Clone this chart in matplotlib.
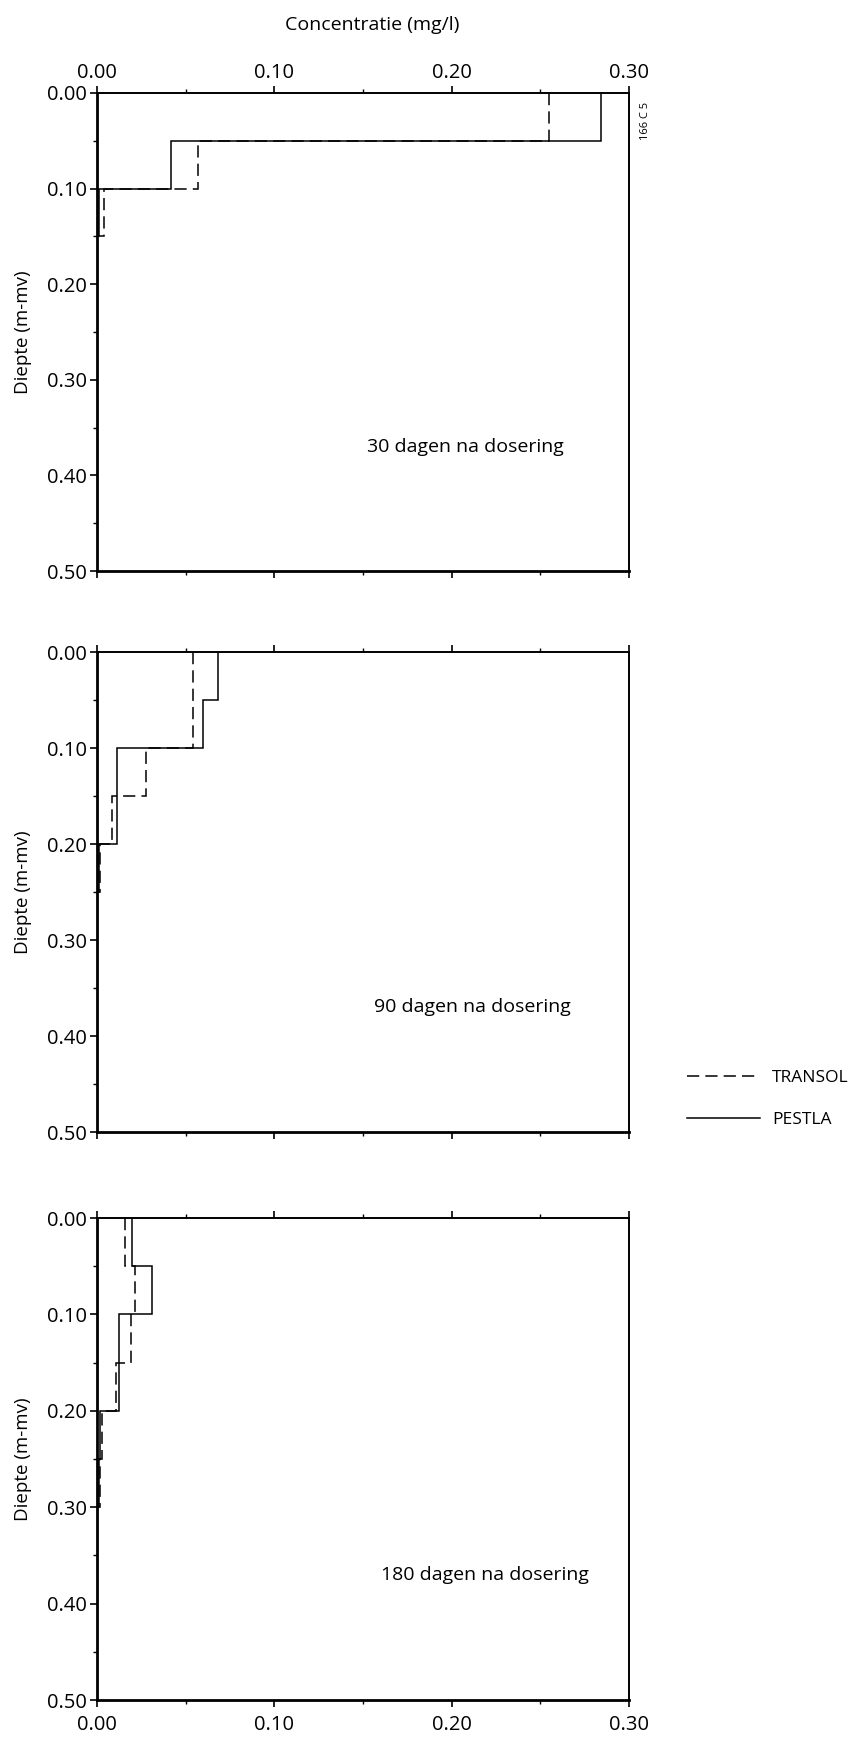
import matplotlib
matplotlib.use("Agg")
import matplotlib.pyplot as plt
from matplotlib.ticker import MultipleLocator, FormatStrFormatter

plt.rcParams['font.family'] = ['Open Sans', 'DejaVu Sans']

# Layer boundaries (m below surface) and concentrations per 5 cm layer (mg/l)
depth_edges = [0.00, 0.05, 0.10, 0.15, 0.20, 0.25, 0.30, 0.35, 0.40, 0.45, 0.50]

pestla_30 = [0.284, 0.042, 0.001, 0.0, 0.0, 0.0, 0.0, 0.0, 0.0, 0.0]
transol_30 = [0.255, 0.057, 0.0037, 0.0, 0.0, 0.0, 0.0, 0.0, 0.0, 0.0]

pestla_90 = [0.068, 0.060, 0.011, 0.011, 0.001, 0.0, 0.0, 0.0, 0.0, 0.0]
transol_90 = [0.054, 0.054, 0.0275, 0.0087, 0.0015, 0.0, 0.0, 0.0, 0.0, 0.0]

pestla_180 = [0.020, 0.031, 0.0125, 0.0125, 0.0017, 0.0012, 0.0, 0.0, 0.0, 0.0]
transol_180 = [0.016, 0.0215, 0.019, 0.0105, 0.003, 0.0015, 0.0, 0.0, 0.0, 0.0]

panel_titles = ["30 dagen na dosering", "90 dagen na dosering", "180 dagen na dosering"]
panel_text_x = [0.152, 0.156, 0.160]
series = [(transol_30, pestla_30), (transol_90, pestla_90), (transol_180, pestla_180)]

x_label = "Concentratie (mg/l)"
y_label = "Diepte (m-mv)"
legend_labels = ["TRANSOL", "PESTLA"]

W, H = 864, 1744
fig = plt.figure(figsize=(W / 100, H / 100), dpi=100)

left, width = 97 / W, 532 / W
panel_px = [(93, 571), (652, 1132), (1218, 1700)]

handles = None
for i, ((top_px, bot_px), (tr, pe), title) in enumerate(zip(panel_px, series, panel_titles)):
    ax = fig.add_axes([left, 1 - bot_px / H, width, (bot_px - top_px) / H])
    h_tr = ax.stairs(tr, depth_edges, orientation='horizontal', baseline=None,
                     color='black', linewidth=1.1, linestyle=(0, (8, 4)))
    h_pe = ax.stairs(pe, depth_edges, orientation='horizontal', baseline=None,
                     color='black', linewidth=1.1, linestyle='-')
    if handles is None:
        handles = [h_tr, h_pe]

    ax.set_xlim(0.0, 0.30)
    ax.set_ylim(0.50, 0.00)
    ax.xaxis.set_major_locator(MultipleLocator(0.10))
    ax.xaxis.set_minor_locator(MultipleLocator(0.05))
    ax.yaxis.set_major_locator(MultipleLocator(0.10))
    ax.yaxis.set_minor_locator(MultipleLocator(0.05))
    ax.xaxis.set_major_formatter(FormatStrFormatter('%.2f'))
    ax.yaxis.set_major_formatter(FormatStrFormatter('%.2f'))

    ax.tick_params(axis='both', which='major', direction='out', length=5, width=1.2,
                   labelsize=14.5, pad=2)
    ax.tick_params(axis='both', which='minor', direction='out', length=3, width=1.0)
    ax.tick_params(axis='x', which='both', top=True, bottom=True,
                   labeltop=(i == 0), labelbottom=(i == 2))
    ax.tick_params(axis='y', which='both', left=True, right=False)
    ax.tick_params(axis='x', which='major', pad=6 if i == 2 else 2)

    for side in ('left', 'bottom'):
        ax.spines[side].set_linewidth(2.0)
    for side in ('top', 'right'):
        ax.spines[side].set_linewidth(1.4)

    ax.set_ylabel(y_label, fontsize=13.5)
    ax.yaxis.set_label_coords(-0.122, 0.5)

    ax.text(panel_text_x[i], 0.37, title, fontsize=14, ha='left', va='center')

fig.text(372 / W, 1 - 25 / H, x_label, fontsize=14, ha='center', va='center')
fig.text(645 / W, 1 - 121 / H, "166 C 5", fontsize=8, rotation=90,
         ha='center', va='center')

fig.legend(handles, legend_labels, loc='upper left',
           bbox_to_anchor=(687 / W, 1 - 1070 / H), frameon=False,
           fontsize=12.5, handlelength=4.2, handletextpad=0.7,
           labelspacing=1.5, borderpad=0, borderaxespad=0)

fig.savefig("out.png", dpi=100, facecolor='white')
